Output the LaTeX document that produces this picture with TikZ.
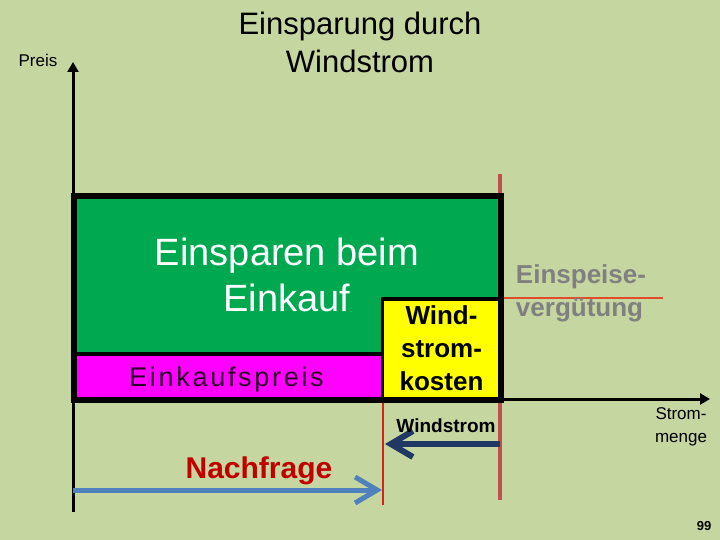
\documentclass[tikz,border=0pt]{standalone}
\usepackage{fontspec}
\setmainfont{Liberation Sans}
\usepackage{xcolor}
\usetikzlibrary{arrows.meta, positioning}

\definecolor{slidegreen}{RGB}{198,214,160}
\definecolor{savegreen}{RGB}{0,168,80}
\definecolor{buymagenta}{RGB}{255,0,255}
\definecolor{costyellow}{RGB}{255,255,0}
\definecolor{feedgray}{RGB}{128,128,128}
\definecolor{gridred}{RGB}{192,80,77}
\definecolor{brightred}{RGB}{214,36,24}
\definecolor{lineorange}{RGB}{222,78,44}
\definecolor{navyarrow}{RGB}{31,56,100}
\definecolor{skyarrow}{RGB}{79,129,189}
\definecolor{darkred}{RGB}{192,0,0}
\definecolor{buytext}{RGB}{40,0,40}

\begin{document}
\begin{tikzpicture}[
  x=1pt, y=-1pt,
  every node/.style={inner sep=0pt, align=center},
  axis/.style={line width=3pt, -{Triangle[length=10pt, width=11pt]}},
  outerbox/.style={draw=black, line width=6pt},
  innerbox/.style={draw=black, line width=3.5pt},
  flowarr/.style={line width=#1, -{Straight Barb[length=22pt, width=26pt]}},
  bigtext/.style={font=\fontsize{38}{46}\selectfont},
  boldtext/.style={font=\bfseries\fontsize{26}{33}\selectfont},
  smalltext/.style={font=\fontsize{17}{23}\selectfont}
]
  \fill[slidegreen] (0,0) rectangle (720,540);
  \useasboundingbox (0,0) rectangle (720,540);

  \coordinate (ybot) at (73,512);
  \coordinate (ytop) at (73,62);
  \coordinate (xbeg) at (500,399);
  \coordinate (xend) at (710,399);

  % Marken fuer Wind und Nachfrage
  \draw[gridred, line width=3.5pt] (500,174) -- (500,500);
  \draw[brightred, line width=2.5pt] (383,399) -- (383,505);
  \draw[lineorange, line width=2pt] (500,298) -- (663,298);

  \draw[axis] (ybot) -- (ytop);
  \draw[axis] (xbeg) -- (xend);

  \fill[savegreen] (74,196.5) rectangle (500.5,399.5);
  \filldraw[fill=buymagenta, innerbox] (74,354) rectangle (382.5,399.5);
  \filldraw[fill=costyellow, innerbox] (382.5,299) rectangle (500.5,399.5);
  \draw[outerbox] (74,196.5) rectangle (500.5,399.5);

  \coordinate (windbeg) at (500,444);
  \coordinate (windend) at (385,444);
  \coordinate (demandbeg) at (73,490);
  \coordinate (demandend) at (382,490);
  \draw[flowarr=6pt, navyarrow] (windbeg) -- (windend);
  \draw[flowarr=5pt, skyarrow] (demandbeg) -- (demandend);

  \node[font=\fontsize{31}{38}\selectfont] (title) at (360,42) {Einsparung durch\\Windstrom};
  \node[smalltext] (preis) at (38,60) {Preis};
  \node[bigtext, text=white] (save) at (287,275) {Einsparen beim\\Einkauf};
  \node[font=\addfontfeature{LetterSpace=10}\fontsize{27}{32}\selectfont, text=buytext,
        anchor=base] (buy) at (226.5,386) {Einkaufspreis};
  \node[boldtext] (cost) at (441.5,348.5) {Wind-\\strom-\\kosten};
  \node[boldtext, text=feedgray, align=left] (feed) at (581,293.5) {Einspeise-\\vergütung};
  \node[font=\bfseries\fontsize{19}{23}\selectfont, anchor=base] (wind) at (446,432) {Windstrom};
  \node[smalltext] (menge) at (681,426.5) {Strom-\\menge};
  \node[font=\bfseries\fontsize{30}{36}\selectfont, text=darkred, anchor=base] (demand) at (259,478) {Nachfrage};
  \node[font=\bfseries\fontsize{13}{16}\selectfont, anchor=base] (page) at (704,530) {99};
\end{tikzpicture}
\end{document}
